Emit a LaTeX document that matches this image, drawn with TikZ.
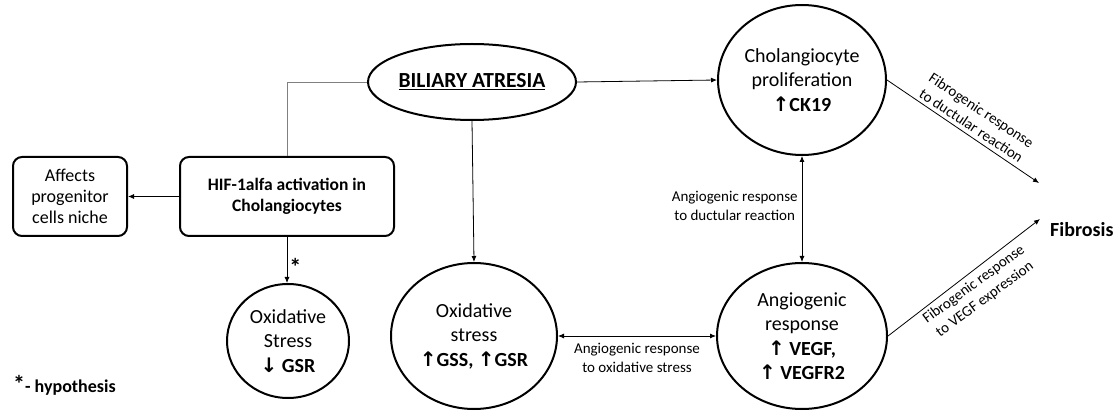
\documentclass[tikz,border=0pt]{standalone}
\usepackage{fontspec}
\setmainfont{Carlito}
\newfontfamily\arrfont{DejaVu Sans}
\usetikzlibrary{arrows.meta,shapes.geometric,calc}
\newcommand{\up}{{\arrfont\bfseries ↑}}
\newcommand{\dn}{{\arrfont\bfseries ↓}}
\begin{document}
\begin{tikzpicture}[x=1pt,y=1pt,
  oval/.style={ellipse, draw, line width=2pt, inner sep=0pt, align=center, font=\fontsize{20}{24.5}\selectfont},
  rbox/.style={draw, line width=2pt, rounded corners=9pt, inner sep=0pt, align=center},
  conn/.style={line width=0.8pt, -{Latex[length=6pt,width=5pt]}},
  dconn/.style={line width=0.8pt, {Latex[length=6pt,width=5pt]}-{Latex[length=6pt,width=5pt]}},
  lab/.style={font=\fontsize{15}{18.5}\selectfont, align=center}
]
\useasboundingbox (0,0) rectangle (1118,415);

\node[oval, minimum width=208, minimum height=76] (ba) at (472,333)
  {\fontsize{21.5}{25}\selectfont\bfseries\underline{BILIARY ATRESIA}};
\node[oval, minimum width=168, minimum height=150] (ch) at (802,335)
  {Cholangiocyte\\proliferation\\\textbf{\up CK19}};
\node[oval, minimum width=170, minimum height=146] (an) at (802,79)
  {Angiogenic\\response\\\textbf{\up\ VEGF,}\\\textbf{\up\ VEGFR2}};
\node[oval, minimum width=166, minimum height=146] (ox) at (474,79)
  {Oxidative\\stress\\\textbf{\up GSS, \up GSR}};
\node[oval, minimum width=122, minimum height=114] (os) at (288,74)
  {Oxidative\\Stress\\\textbf{\dn\ GSR}};
\node[rbox, minimum width=214, minimum height=79, font=\fontsize{17.5}{21}\selectfont\bfseries] (hif) at (287,218.5)
  {HIF-1alfa activation in\\Cholangiocytes};
\node[rbox, minimum width=114, minimum height=79, font=\fontsize{18}{21}\selectfont] (af) at (70,218.5)
  {Affects\\progenitor\\cells niche};
\node[anchor=west, inner sep=0pt, font=\fontsize{20}{24}\selectfont\bfseries] (fib) at (1050,185) {Fibrosis};
\node[anchor=west, inner sep=0pt, font=\fontsize{18}{22}\selectfont\bfseries] (hyp) at (13,30) {{\fontsize{24}{24}\selectfont *}- hypothesis};

\coordinate (ft) at (1039,232);
\coordinate (fb) at (1040,196);

\draw[line width=0.6pt, gray] (ba.west) -| (hif.north);
\draw[conn] (ba.east) -- (ch.west);
\draw[conn] (ba.south) -- (ox.north);
\draw[conn] (hif.west) -- (af.east);
\draw[conn] (hif.south) -- node[right, font=\fontsize{24}{24}\selectfont\bfseries, inner sep=2pt, yshift=-7pt] {*} (os.north -| hif.south);
\draw[dconn] (ch.south) -- node[lab, left, inner sep=4pt, yshift=3pt] {Angiogenic response\\to ductular reaction} (an.north);
\draw[dconn] (ox.east) -- node[lab, below, inner sep=7pt] {Angiogenic response\\to oxidative stress} (an.west);
\draw[conn] (ch.east) -- (ft);
\draw[conn] (an.east) -- (fb);
\node[lab, rotate=-33.6, anchor=south, inner sep=4pt] (l1) at ($(ch.east)!0.52!(ft)$) {Fibrogenic response\\to ductular reaction};
\node[lab, rotate=36.3, anchor=north, inner sep=5pt] (l2) at ($(an.east)!0.52!(fb)$) {Fibrogenic response\\to VEGF expression};
\end{tikzpicture}
\end{document}
